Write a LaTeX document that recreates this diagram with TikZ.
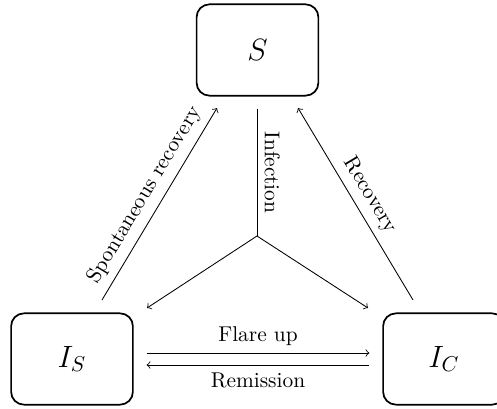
\documentclass[tikz,border=0pt]{standalone}
\begin{document}
\begin{tikzpicture}[x=0.4673pt,y=-0.4673pt,
  state/.style={draw,thick,rounded corners=6pt,minimum width=2cm,minimum height=1.5cm,font=\Large},
  flow/.style={->}]
\useasboundingbox (0,0) rectangle (497,409);
\node[state] (S) at (257.5,50) {$S$};
\node[state] (IS) at (72,359) {$I_S$};
\node[state] (IC) at (444,359) {$I_C$};
% infection
\coordinate (inf0) at (257,109);
\coordinate (junc) at (257,236);
\coordinate (infL) at (147,308);
\coordinate (infR) at (368,308);
\draw (inf0) -- node[sloped,above] {Infection} (junc);
\draw[flow] (junc) -- (infL);
\draw[flow] (junc) -- (infR);
% recoveries
\coordinate (sr0) at (102,300);
\coordinate (sr1) at (217,108);
\draw[flow] (sr0) -- node[sloped,above] {Spontaneous recovery} (sr1);
\coordinate (r0) at (413,300);
\coordinate (r1) at (298,108);
\draw[flow] (r0) -- node[sloped,above] {Recovery} (r1);
% flare up / remission
\draw[flow,shorten <=6pt,shorten >=6pt] ([yshift=2.8pt]IS.east) -- node[above] {Flare up} ([yshift=2.8pt]IC.west);
\draw[flow,shorten <=6pt,shorten >=6pt] ([yshift=-2.8pt]IC.west) -- node[below] {Remission} ([yshift=-2.8pt]IS.east);
\end{tikzpicture}
\end{document}
